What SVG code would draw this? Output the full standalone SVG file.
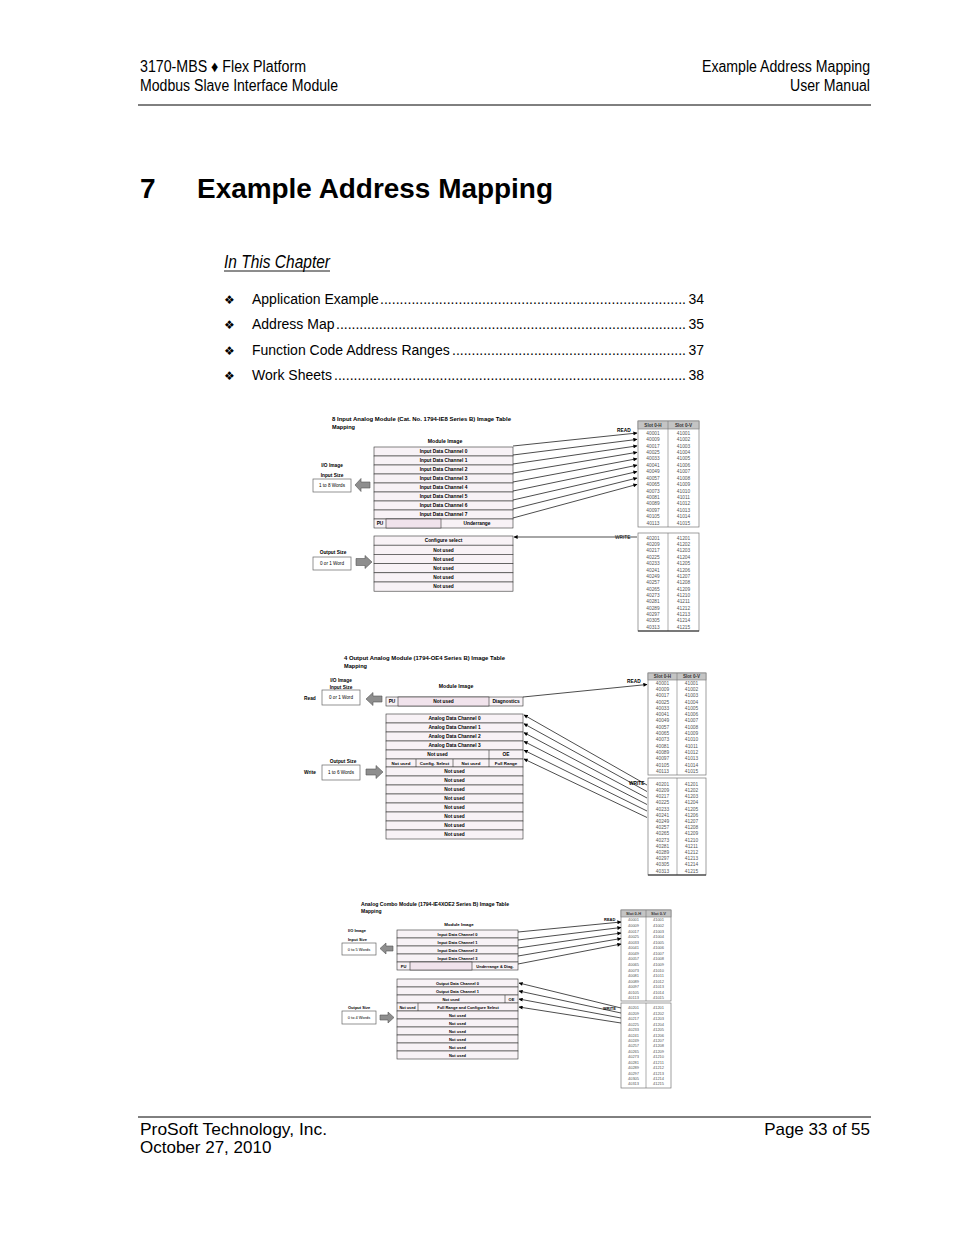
<svg xmlns="http://www.w3.org/2000/svg" width="954" height="1235" viewBox="0 0 954 1235">
<style>
text{font-family:"Liberation Sans",Arial,sans-serif;fill:#000}
.hd{font-size:16px}
.toc{font-size:14px}
.lbl{font-size:4.8px;font-weight:bold}
.c{text-anchor:middle}
.e{text-anchor:end}
.d{font-size:4.8px;font-weight:bold;text-anchor:middle}
.dn{font-size:4.6px;text-anchor:middle}
.v{font-size:4.8px;fill:#555;text-anchor:middle}
.v3{font-size:4px;fill:#555;text-anchor:middle}
.vh{font-size:4.6px;font-weight:bold;fill:#333;text-anchor:middle}
.row{fill:#f8f2f6;stroke:#333;stroke-width:0.6}
.cell{fill:none;stroke:#333;stroke-width:0.6}
.blank{fill:#f1e3ec;stroke:#333;stroke-width:0.6}
.box{fill:#fff;stroke:#666;stroke-width:0.7}
.tbl{fill:#fff;stroke:#777;stroke-width:0.7}
.th{fill:#c4c4c4;stroke:#777;stroke-width:0.6}
.div{stroke:#777;stroke-width:0.6}
.ga{fill:#8e8e8e;stroke:#555;stroke-width:0.6}
.cn{stroke:#000;stroke-width:0.7;fill:none}
.rule{stroke:#000;stroke-width:1}
</style>
<defs>
<marker id="ah" viewBox="0 0 10 10" refX="9" refY="5" markerWidth="5" markerHeight="4" markerUnits="userSpaceOnUse" orient="auto">
<path d="M0,0 L10,5 L0,10 z" fill="#000"/>
</marker>
</defs>
<rect width="954" height="1235" fill="#fff"/>

<g id="page-header">
<text class="hd" x="140" y="72" textLength="166" lengthAdjust="spacingAndGlyphs">3170-MBS ♦ Flex Platform</text>
<text class="hd" x="140" y="91" textLength="198" lengthAdjust="spacingAndGlyphs">Modbus Slave Interface Module</text>
<text class="hd" x="702" y="72" textLength="168" lengthAdjust="spacingAndGlyphs">Example Address Mapping</text>
<text class="hd" x="790" y="91" textLength="80" lengthAdjust="spacingAndGlyphs">User Manual</text>
<line class="rule" x1="138" y1="105" x2="871" y2="105"/>
</g>

<g id="title">
<text x="140" y="198" style="font-size:28px;font-weight:bold">7</text>
<text x="197" y="198" style="font-size:28px;font-weight:bold" textLength="356" lengthAdjust="spacingAndGlyphs">Example Address Mapping</text>
</g>

<g id="toc">
<text x="224" y="268" style="font-size:18px;font-style:italic" textLength="106" lengthAdjust="spacingAndGlyphs">In This Chapter</text>
<line x1="224" y1="271" x2="330" y2="271" stroke="#000" stroke-width="0.9"/>
<text x="224" y="304" style="font-size:12px;font-family:'DejaVu Sans',sans-serif">❖</text>
<text class="toc" x="252" y="304">Application Example</text>
<text class="toc" x="380" y="304" textLength="306" lengthAdjust="spacing">..............................................................................</text>
<text class="toc e" x="704" y="304">34</text>
<text x="224" y="329" style="font-size:12px;font-family:'DejaVu Sans',sans-serif">❖</text>
<text class="toc" x="252" y="329">Address Map</text>
<text class="toc" x="336" y="329" textLength="350" lengthAdjust="spacing">..........................................................................................</text>
<text class="toc e" x="704" y="329">35</text>
<text x="224" y="355" style="font-size:12px;font-family:'DejaVu Sans',sans-serif">❖</text>
<text class="toc" x="252" y="355">Function Code Address Ranges</text>
<text class="toc" x="452" y="355" textLength="234" lengthAdjust="spacing">............................................................</text>
<text class="toc e" x="704" y="355">37</text>
<text x="224" y="380" style="font-size:12px;font-family:'DejaVu Sans',sans-serif">❖</text>
<text class="toc" x="252" y="380">Work Sheets</text>
<text class="toc" x="334" y="380" textLength="352" lengthAdjust="spacing">..........................................................................................</text>
<text class="toc e" x="704" y="380">38</text>
</g>

<!-- ================= DIAGRAM 1 ================= -->
<g id="d1-title">
<text class="lbl" x="332" y="421" style="font-size:5.6px" textLength="179" lengthAdjust="spacingAndGlyphs">8 Input Analog Module (Cat. No. 1794-IE8 Series B) Image Table</text>
<text class="lbl" x="332" y="429" style="font-size:5.6px">Mapping</text>
<text class="lbl c" x="445" y="443" style="font-size:5.2px">Module Image</text>
</g>
<g id="d1-input-size">
<text class="lbl c" x="332" y="467">I/O Image</text>
<text class="lbl c" x="332" y="477">Input Size</text>
<rect class="box" x="313" y="479" width="38" height="13"/>
<text class="dn" x="332" y="487.2">1 to 8 Words</text>
<path class="ga" d="M355,485 L361,478.5 L361,482 L370,482 L370,488 L361,488 L361,491.5 z"/>
</g>
<g id="d1-module-input">
<rect class="row" x="374" y="447" width="139" height="9"/>
<rect class="row" x="374" y="456" width="139" height="9"/>
<rect class="row" x="374" y="465" width="139" height="9"/>
<rect class="row" x="374" y="474" width="139" height="9"/>
<rect class="row" x="374" y="483" width="139" height="9"/>
<rect class="row" x="374" y="492" width="139" height="9"/>
<rect class="row" x="374" y="501" width="139" height="9"/>
<rect class="row" x="374" y="510" width="139" height="9"/>
<rect class="row" x="374" y="519" width="139" height="9"/>
<rect class="blank" x="386" y="519" width="55" height="9"/>
<text class="d" x="443.5" y="453.2">Input Data Channel 0</text>
<text class="d" x="443.5" y="462.2">Input Data Channel 1</text>
<text class="d" x="443.5" y="471.2">Input Data Channel 2</text>
<text class="d" x="443.5" y="480.2">Input Data Channel 3</text>
<text class="d" x="443.5" y="489.2">Input Data Channel 4</text>
<text class="d" x="443.5" y="498.2">Input Data Channel 5</text>
<text class="d" x="443.5" y="507.2">Input Data Channel 6</text>
<text class="d" x="443.5" y="516.2">Input Data Channel 7</text>
<text class="d" x="380" y="525.2">PU</text>
<text class="d" x="477" y="525.2">Underrange</text>
</g>
<g id="d1-output-size">
<text class="lbl c" x="333" y="554">Output Size</text>
<rect class="box" x="313" y="557" width="38" height="13"/>
<text class="dn" x="332" y="565.2">0 or 1 Word</text>
<path class="ga" d="M372,562 L365,555.5 L365,558.5 L356,558.5 L356,565.5 L365,565.5 L365,568.5 z"/>
</g>
<g id="d1-module-output">
<rect class="row" x="374" y="536" width="139" height="9.2"/>
<rect class="row" x="374" y="545.2" width="139" height="9.2"/>
<rect class="row" x="374" y="554.4" width="139" height="9.2"/>
<rect class="row" x="374" y="563.6" width="139" height="9.2"/>
<rect class="row" x="374" y="572.8" width="139" height="9.2"/>
<rect class="row" x="374" y="582" width="139" height="9.2"/>
<text class="d" x="443.5" y="542.2">Configure select</text>
<text class="d" x="443.5" y="551.5">Not used</text>
<text class="d" x="443.5" y="560.7">Not used</text>
<text class="d" x="443.5" y="569.9">Not used</text>
<text class="d" x="443.5" y="579.1">Not used</text>
<text class="d" x="443.5" y="588.3">Not used</text>
</g>
<g id="d1-read-table">
<rect class="tbl" x="638" y="421" width="61" height="106"/>
<rect class="th" x="638" y="421" width="61" height="8"/>
<line class="div" x1="668" y1="421" x2="668" y2="527"/>
<text class="vh" x="653" y="426.8">Slot 0-H</text>
<text class="vh" x="683.5" y="426.8">Slot 0-V</text>
<text class="v"><tspan x="653" y="434.7">40001</tspan><tspan x="653" y="441.1">40009</tspan><tspan x="653" y="447.6">40017</tspan><tspan x="653" y="454">40025</tspan><tspan x="653" y="460.4">40033</tspan><tspan x="653" y="466.9">40041</tspan><tspan x="653" y="473.3">40049</tspan><tspan x="653" y="479.7">40057</tspan><tspan x="653" y="486.1">40065</tspan><tspan x="653" y="492.6">40073</tspan><tspan x="653" y="499">40081</tspan><tspan x="653" y="505.4">40089</tspan><tspan x="653" y="511.9">40097</tspan><tspan x="653" y="518.3">40105</tspan><tspan x="653" y="524.7">40113</tspan></text>
<text class="v"><tspan x="683.5" y="434.7">41001</tspan><tspan x="683.5" y="441.1">41002</tspan><tspan x="683.5" y="447.6">41003</tspan><tspan x="683.5" y="454">41004</tspan><tspan x="683.5" y="460.4">41005</tspan><tspan x="683.5" y="466.9">41006</tspan><tspan x="683.5" y="473.3">41007</tspan><tspan x="683.5" y="479.7">41008</tspan><tspan x="683.5" y="486.1">41009</tspan><tspan x="683.5" y="492.6">41010</tspan><tspan x="683.5" y="499">41011</tspan><tspan x="683.5" y="505.4">41012</tspan><tspan x="683.5" y="511.9">41013</tspan><tspan x="683.5" y="518.3">41014</tspan><tspan x="683.5" y="524.7">41015</tspan></text>
</g>
<g id="d1-write-table">
<rect class="tbl" x="638" y="533" width="61" height="98"/>
<line class="div" x1="668" y1="533" x2="668" y2="631"/>
<line x1="638" y1="631" x2="699" y2="631" stroke="#222" stroke-width="1.2"/>
<text class="v"><tspan x="653" y="539.7">40201</tspan><tspan x="653" y="546.1">40209</tspan><tspan x="653" y="552.4">40217</tspan><tspan x="653" y="558.8">40225</tspan><tspan x="653" y="565.2">40233</tspan><tspan x="653" y="571.5">40241</tspan><tspan x="653" y="577.9">40249</tspan><tspan x="653" y="584.2">40257</tspan><tspan x="653" y="590.6">40265</tspan><tspan x="653" y="596.9">40273</tspan><tspan x="653" y="603.3">40281</tspan><tspan x="653" y="609.7">40289</tspan><tspan x="653" y="616">40297</tspan><tspan x="653" y="622.4">40305</tspan><tspan x="653" y="628.7">40313</tspan></text>
<text class="v"><tspan x="683.5" y="539.7">41201</tspan><tspan x="683.5" y="546.1">41202</tspan><tspan x="683.5" y="552.4">41203</tspan><tspan x="683.5" y="558.8">41204</tspan><tspan x="683.5" y="565.2">41205</tspan><tspan x="683.5" y="571.5">41206</tspan><tspan x="683.5" y="577.9">41207</tspan><tspan x="683.5" y="584.2">41208</tspan><tspan x="683.5" y="590.6">41209</tspan><tspan x="683.5" y="596.9">41210</tspan><tspan x="683.5" y="603.3">41211</tspan><tspan x="683.5" y="609.7">41212</tspan><tspan x="683.5" y="616">41213</tspan><tspan x="683.5" y="622.4">41214</tspan><tspan x="683.5" y="628.7">41215</tspan></text>
</g>

<!-- ================= DIAGRAM 2 ================= -->
<g id="d2-title">
<text class="lbl" x="344" y="660" style="font-size:5.6px" textLength="161" lengthAdjust="spacingAndGlyphs">4 Output Analog Module (1794-OE4 Series B) Image Table</text>
<text class="lbl" x="344" y="668" style="font-size:5.6px">Mapping</text>
<text class="lbl c" x="456" y="688" style="font-size:5.2px">Module Image</text>
</g>
<g id="d2-input-size">
<text class="lbl c" x="341" y="682">I/O Image</text>
<text class="lbl c" x="341" y="689">Input Size</text>
<text class="lbl" x="304" y="700">Read</text>
<rect class="box" x="322" y="690" width="38" height="15"/>
<text class="dn" x="341" y="699">0 or 1 Word</text>
<path class="ga" d="M366,699 L373,692.5 L373,696 L382,696 L382,702 L373,702 L373,705.5 z"/>
</g>
<g id="d2-module-input">
<rect class="row" x="386" y="697" width="137" height="9"/>
<rect class="blank" x="398" y="697" width="91" height="9"/>
<text class="d" x="392" y="703.2">PU</text>
<text class="d" x="443.5" y="703.2">Not used</text>
<text class="d" x="506" y="703.2">Diagnostics</text>
</g>
<g id="d2-output-size">
<text class="lbl c" x="343" y="763">Output Size</text>
<text class="lbl" x="304" y="774">Write</text>
<rect class="box" x="322" y="765" width="38" height="15"/>
<text class="dn" x="341" y="774">1 to 6 Words</text>
<path class="ga" d="M383,772 L376,765.5 L376,769 L366,769 L366,775 L376,775 L376,778.5 z"/>
</g>
<g id="d2-module-output">
<rect class="row" x="386" y="714" width="137" height="9"/>
<rect class="row" x="386" y="723" width="137" height="9"/>
<rect class="row" x="386" y="732" width="137" height="9"/>
<rect class="row" x="386" y="741" width="137" height="9"/>
<rect class="row" x="386" y="750" width="137" height="9"/>
<rect class="row" x="386" y="759" width="137" height="8"/>
<rect class="row" x="386" y="767" width="137" height="9"/>
<rect class="row" x="386" y="776" width="137" height="9"/>
<rect class="row" x="386" y="785" width="137" height="9"/>
<rect class="row" x="386" y="794" width="137" height="9"/>
<rect class="row" x="386" y="803" width="137" height="9"/>
<rect class="row" x="386" y="812" width="137" height="9"/>
<rect class="row" x="386" y="821" width="137" height="9"/>
<rect class="row" x="386" y="830" width="137" height="9"/>
<line class="cell" x1="489" y1="750" x2="489" y2="767"/>
<line class="cell" x1="416" y1="759" x2="416" y2="767"/>
<line class="cell" x1="453" y1="759" x2="453" y2="767"/>
<text class="d" x="454.5" y="720.2">Analog Data Channel 0</text>
<text class="d" x="454.5" y="729.2">Analog Data Channel 1</text>
<text class="d" x="454.5" y="738.2">Analog Data Channel 2</text>
<text class="d" x="454.5" y="747.2">Analog Data Channel 3</text>
<text class="d" x="437.5" y="756.2">Not used</text>
<text class="d" x="506" y="756.2">OE</text>
<text class="d" x="401" y="764.7" style="font-size:4.4px">Not used</text>
<text class="d" x="434.5" y="764.7" style="font-size:4.4px">Config. Select</text>
<text class="d" x="471" y="764.7" style="font-size:4.4px">Not used</text>
<text class="d" x="506" y="764.7" style="font-size:4.4px">Full Range</text>
<text class="d" x="454.5" y="773.2">Not used</text>
<text class="d" x="454.5" y="782.2">Not used</text>
<text class="d" x="454.5" y="791.2">Not used</text>
<text class="d" x="454.5" y="800.2">Not used</text>
<text class="d" x="454.5" y="809.2">Not used</text>
<text class="d" x="454.5" y="818.2">Not used</text>
<text class="d" x="454.5" y="827.2">Not used</text>
<text class="d" x="454.5" y="836.2">Not used</text>
</g>
<g id="d2-read-table">
<rect class="tbl" x="648" y="673" width="58" height="102"/>
<rect class="th" x="648" y="673" width="58" height="7"/>
<line class="div" x1="677" y1="673" x2="677" y2="775"/>
<text class="vh" x="662.5" y="678.2">Slot 0-H</text>
<text class="vh" x="691.5" y="678.2">Slot 0-V</text>
<text class="v"><tspan x="662.5" y="684.7">40001</tspan><tspan x="662.5" y="691">40009</tspan><tspan x="662.5" y="697.3">40017</tspan><tspan x="662.5" y="703.6">40025</tspan><tspan x="662.5" y="709.9">40033</tspan><tspan x="662.5" y="716.1">40041</tspan><tspan x="662.5" y="722.4">40049</tspan><tspan x="662.5" y="728.7">40057</tspan><tspan x="662.5" y="735">40065</tspan><tspan x="662.5" y="741.3">40073</tspan><tspan x="662.5" y="747.6">40081</tspan><tspan x="662.5" y="753.9">40089</tspan><tspan x="662.5" y="760.2">40097</tspan><tspan x="662.5" y="766.5">40105</tspan><tspan x="662.5" y="772.7">40113</tspan></text>
<text class="v"><tspan x="691.5" y="684.7">41001</tspan><tspan x="691.5" y="691">41002</tspan><tspan x="691.5" y="697.3">41003</tspan><tspan x="691.5" y="703.6">41004</tspan><tspan x="691.5" y="709.9">41005</tspan><tspan x="691.5" y="716.1">41006</tspan><tspan x="691.5" y="722.4">41007</tspan><tspan x="691.5" y="728.7">41008</tspan><tspan x="691.5" y="735">41009</tspan><tspan x="691.5" y="741.3">41010</tspan><tspan x="691.5" y="747.6">41011</tspan><tspan x="691.5" y="753.9">41012</tspan><tspan x="691.5" y="760.2">41013</tspan><tspan x="691.5" y="766.5">41014</tspan><tspan x="691.5" y="772.7">41015</tspan></text>
</g>
<g id="d2-write-table">
<rect class="tbl" x="648" y="778" width="58" height="97"/>
<line class="div" x1="677" y1="778" x2="677" y2="875"/>
<line x1="648" y1="875" x2="706" y2="875" stroke="#222" stroke-width="1.2"/>
<text class="v"><tspan x="662.5" y="785.7">40201</tspan><tspan x="662.5" y="791.9">40209</tspan><tspan x="662.5" y="798.1">40217</tspan><tspan x="662.5" y="804.3">40225</tspan><tspan x="662.5" y="810.5">40233</tspan><tspan x="662.5" y="816.7">40241</tspan><tspan x="662.5" y="822.9">40249</tspan><tspan x="662.5" y="829.2">40257</tspan><tspan x="662.5" y="835.4">40265</tspan><tspan x="662.5" y="841.6">40273</tspan><tspan x="662.5" y="847.8">40281</tspan><tspan x="662.5" y="854">40289</tspan><tspan x="662.5" y="860.2">40297</tspan><tspan x="662.5" y="866.4">40305</tspan><tspan x="662.5" y="872.6">40313</tspan></text>
<text class="v"><tspan x="691.5" y="785.7">41201</tspan><tspan x="691.5" y="791.9">41202</tspan><tspan x="691.5" y="798.1">41203</tspan><tspan x="691.5" y="804.3">41204</tspan><tspan x="691.5" y="810.5">41205</tspan><tspan x="691.5" y="816.7">41206</tspan><tspan x="691.5" y="822.9">41207</tspan><tspan x="691.5" y="829.2">41208</tspan><tspan x="691.5" y="835.4">41209</tspan><tspan x="691.5" y="841.6">41210</tspan><tspan x="691.5" y="847.8">41211</tspan><tspan x="691.5" y="854">41212</tspan><tspan x="691.5" y="860.2">41213</tspan><tspan x="691.5" y="866.4">41214</tspan><tspan x="691.5" y="872.6">41215</tspan></text>
</g>

<!-- ================= DIAGRAM 3 ================= -->
<g id="d3-title">
<text class="lbl" x="361" y="906" style="font-size:5px" textLength="148" lengthAdjust="spacingAndGlyphs">Analog Combo Module (1794-IE4XOE2 Series B) Image Table</text>
<text class="lbl" x="361" y="913" style="font-size:5px">Mapping</text>
<text class="lbl c" x="459" y="926" style="font-size:4.4px">Module Image</text>
</g>
<g id="d3-input-size">
<text class="lbl" x="348" y="932" style="font-size:4px">I/O Image</text>
<text class="lbl" x="348" y="941" style="font-size:4px">Input Size</text>
<rect class="box" x="342" y="943" width="34" height="12"/>
<text class="dn" x="359" y="950.5" style="font-size:4px">0 to 5 Words</text>
<path class="ga" d="M380,948.5 L386,943 L386,946 L393,946 L393,951 L386,951 L386,954 z"/>
</g>
<g id="d3-module-input">
<rect class="row" x="397" y="930" width="121" height="8"/>
<rect class="row" x="397" y="938" width="121" height="8"/>
<rect class="row" x="397" y="946" width="121" height="8"/>
<rect class="row" x="397" y="954" width="121" height="8"/>
<rect class="row" x="397" y="962" width="121" height="8"/>
<rect class="blank" x="410" y="962" width="62" height="8"/>
<text class="d" x="457.5" y="935.6" style="font-size:4px">Input Data Channel 0</text>
<text class="d" x="457.5" y="943.6" style="font-size:4px">Input Data Channel 1</text>
<text class="d" x="457.5" y="951.6" style="font-size:4px">Input Data Channel 2</text>
<text class="d" x="457.5" y="959.6" style="font-size:4px">Input Data Channel 3</text>
<text class="d" x="403.5" y="967.6" style="font-size:4px">PU</text>
<text class="d" x="495" y="967.6" style="font-size:4px">Underrange &amp; Diag.</text>
</g>
<g id="d3-output-size">
<text class="lbl" x="348" y="1009" style="font-size:4px">Output Size</text>
<rect class="box" x="342" y="1011" width="34" height="13"/>
<text class="dn" x="359" y="1019" style="font-size:4px">0 to 4 Words</text>
<path class="ga" d="M394,1017.5 L388,1012 L388,1015 L380,1015 L380,1020 L388,1020 L388,1023 z"/>
</g>
<g id="d3-module-output">
<rect class="row" x="397" y="979" width="121" height="8"/>
<rect class="row" x="397" y="987" width="121" height="8"/>
<rect class="row" x="397" y="995" width="121" height="8"/>
<rect class="row" x="397" y="1003" width="121" height="8"/>
<rect class="row" x="397" y="1011" width="121" height="8"/>
<rect class="row" x="397" y="1019" width="121" height="8"/>
<rect class="row" x="397" y="1027" width="121" height="8"/>
<rect class="row" x="397" y="1035" width="121" height="8"/>
<rect class="row" x="397" y="1043" width="121" height="8"/>
<rect class="row" x="397" y="1051" width="121" height="8"/>
<line class="cell" x1="505" y1="995" x2="505" y2="1003"/>
<line class="cell" x1="418" y1="1003" x2="418" y2="1011"/>
<text class="d" x="457.5" y="984.6" style="font-size:4px">Output Data Channel 0</text>
<text class="d" x="457.5" y="992.6" style="font-size:4px">Output Data Channel 1</text>
<text class="d" x="451" y="1000.6" style="font-size:4px">Not used</text>
<text class="d" x="511.5" y="1000.6" style="font-size:4px">OE</text>
<text class="d" x="407.5" y="1008.6" style="font-size:3.8px">Not used</text>
<text class="d" x="468" y="1008.6" style="font-size:4px">Full Range and Configure Select</text>
<text class="d" x="457.5" y="1016.6" style="font-size:4px">Not used</text>
<text class="d" x="457.5" y="1024.6" style="font-size:4px">Not used</text>
<text class="d" x="457.5" y="1032.6" style="font-size:4px">Not used</text>
<text class="d" x="457.5" y="1040.6" style="font-size:4px">Not used</text>
<text class="d" x="457.5" y="1048.6" style="font-size:4px">Not used</text>
<text class="d" x="457.5" y="1056.6" style="font-size:4px">Not used</text>
</g>
<g id="d3-read-table">
<rect class="tbl" x="621" y="910" width="50" height="91"/>
<rect class="th" x="621" y="910" width="50" height="7"/>
<line class="div" x1="646" y1="910" x2="646" y2="1001"/>
<text class="v3" x="633.5" y="915" style="font-weight:bold;fill:#333">Slot 0-H</text>
<text class="v3" x="658.5" y="915" style="font-weight:bold;fill:#333">Slot 0-V</text>
<text class="v3"><tspan x="633.5" y="921.4">40001</tspan><tspan x="633.5" y="927">40009</tspan><tspan x="633.5" y="932.5">40017</tspan><tspan x="633.5" y="938.1">40025</tspan><tspan x="633.5" y="943.7">40033</tspan><tspan x="633.5" y="949.3">40041</tspan><tspan x="633.5" y="954.8">40049</tspan><tspan x="633.5" y="960.4">40057</tspan><tspan x="633.5" y="966">40065</tspan><tspan x="633.5" y="971.5">40073</tspan><tspan x="633.5" y="977.1">40081</tspan><tspan x="633.5" y="982.7">40089</tspan><tspan x="633.5" y="988.3">40097</tspan><tspan x="633.5" y="993.8">40105</tspan><tspan x="633.5" y="999.4">40113</tspan></text>
<text class="v3"><tspan x="658.5" y="921.4">41001</tspan><tspan x="658.5" y="927">41002</tspan><tspan x="658.5" y="932.5">41003</tspan><tspan x="658.5" y="938.1">41004</tspan><tspan x="658.5" y="943.7">41005</tspan><tspan x="658.5" y="949.3">41006</tspan><tspan x="658.5" y="954.8">41007</tspan><tspan x="658.5" y="960.4">41008</tspan><tspan x="658.5" y="966">41009</tspan><tspan x="658.5" y="971.5">41010</tspan><tspan x="658.5" y="977.1">41011</tspan><tspan x="658.5" y="982.7">41012</tspan><tspan x="658.5" y="988.3">41013</tspan><tspan x="658.5" y="993.8">41014</tspan><tspan x="658.5" y="999.4">41015</tspan></text>
</g>
<g id="d3-write-table">
<rect class="tbl" x="621" y="1003" width="50" height="85"/>
<line class="div" x1="646" y1="1003" x2="646" y2="1088"/>
<text class="v3"><tspan x="633.5" y="1009.4">40201</tspan><tspan x="633.5" y="1014.8">40209</tspan><tspan x="633.5" y="1020.3">40217</tspan><tspan x="633.5" y="1025.7">40225</tspan><tspan x="633.5" y="1031.1">40233</tspan><tspan x="633.5" y="1036.6">40241</tspan><tspan x="633.5" y="1042">40249</tspan><tspan x="633.5" y="1047.4">40257</tspan><tspan x="633.5" y="1052.8">40265</tspan><tspan x="633.5" y="1058.3">40273</tspan><tspan x="633.5" y="1063.7">40281</tspan><tspan x="633.5" y="1069.1">40289</tspan><tspan x="633.5" y="1074.6">40297</tspan><tspan x="633.5" y="1080">40305</tspan><tspan x="633.5" y="1085.4">40313</tspan></text>
<text class="v3"><tspan x="658.5" y="1009.4">41201</tspan><tspan x="658.5" y="1014.8">41202</tspan><tspan x="658.5" y="1020.3">41203</tspan><tspan x="658.5" y="1025.7">41204</tspan><tspan x="658.5" y="1031.1">41205</tspan><tspan x="658.5" y="1036.6">41206</tspan><tspan x="658.5" y="1042">41207</tspan><tspan x="658.5" y="1047.4">41208</tspan><tspan x="658.5" y="1052.8">41209</tspan><tspan x="658.5" y="1058.3">41210</tspan><tspan x="658.5" y="1063.7">41211</tspan><tspan x="658.5" y="1069.1">41212</tspan><tspan x="658.5" y="1074.6">41213</tspan><tspan x="658.5" y="1080">41214</tspan><tspan x="658.5" y="1085.4">41215</tspan></text>
</g>

<!-- ================= CONNECTORS ================= -->
<g id="connectors" class="cn">
<line x1="513" y1="446" x2="637" y2="433" marker-end="url(#ah)"/>
<line x1="513" y1="455" x2="637" y2="439.4" marker-end="url(#ah)"/>
<line x1="513" y1="464" x2="637" y2="445.9" marker-end="url(#ah)"/>
<line x1="513" y1="473" x2="637" y2="452.3" marker-end="url(#ah)"/>
<line x1="513" y1="482" x2="637" y2="458.7" marker-end="url(#ah)"/>
<line x1="513" y1="491" x2="637" y2="465.2" marker-end="url(#ah)"/>
<line x1="513" y1="500" x2="637" y2="471.6" marker-end="url(#ah)"/>
<line x1="513" y1="509" x2="637" y2="478" marker-end="url(#ah)"/>
<line x1="513" y1="518" x2="637" y2="484.4" marker-end="url(#ah)"/>
<line x1="637" y1="537" x2="514" y2="537" marker-end="url(#ah)"/>
<line x1="523" y1="697" x2="647" y2="684.5" marker-end="url(#ah)"/>
<line x1="647" y1="785" x2="524" y2="715" marker-end="url(#ah)"/>
<line x1="647" y1="791.5" x2="524" y2="723.8" marker-end="url(#ah)"/>
<line x1="647" y1="798" x2="524" y2="732.6" marker-end="url(#ah)"/>
<line x1="647" y1="804.5" x2="524" y2="741.4" marker-end="url(#ah)"/>
<line x1="647" y1="811" x2="524" y2="750.2" marker-end="url(#ah)"/>
<line x1="647" y1="817.5" x2="524" y2="759" marker-end="url(#ah)"/>
<line x1="518" y1="932" x2="621" y2="922" marker-end="url(#ah)"/>
<line x1="518" y1="940" x2="621" y2="927.5" marker-end="url(#ah)"/>
<line x1="518" y1="948" x2="621" y2="933" marker-end="url(#ah)"/>
<line x1="518" y1="956" x2="621" y2="938.5" marker-end="url(#ah)"/>
<line x1="518" y1="964" x2="621" y2="944" marker-end="url(#ah)"/>
<line x1="621" y1="1008" x2="519" y2="983" marker-end="url(#ah)"/>
<line x1="621" y1="1013" x2="519" y2="991" marker-end="url(#ah)"/>
<line x1="621" y1="1018" x2="519" y2="999" marker-end="url(#ah)"/>
<line x1="621" y1="1023" x2="519" y2="1007" marker-end="url(#ah)"/>
</g>
<g id="connector-labels">
<text class="lbl" x="617" y="431.5">READ</text>
<text class="lbl" x="615" y="538.6" style="font-weight:normal">WRITE</text>
<text class="lbl" x="627" y="683">READ</text>
<text class="lbl" x="629" y="785">WRITE</text>
<text class="lbl" x="604" y="920.5" style="font-size:4px">READ</text>
<text class="lbl" x="603" y="1010" style="font-size:4px">WRITE</text>
</g>

<g id="page-footer">
<line class="rule" x1="138" y1="1117" x2="871" y2="1117"/>
<text x="140" y="1135" style="font-size:17px" textLength="187" lengthAdjust="spacingAndGlyphs">ProSoft Technology, Inc.</text>
<text x="140" y="1153" style="font-size:17px">October 27, 2010</text>
<text class="e" x="870" y="1135" style="font-size:17px">Page 33 of 55</text>
</g>
</svg>
